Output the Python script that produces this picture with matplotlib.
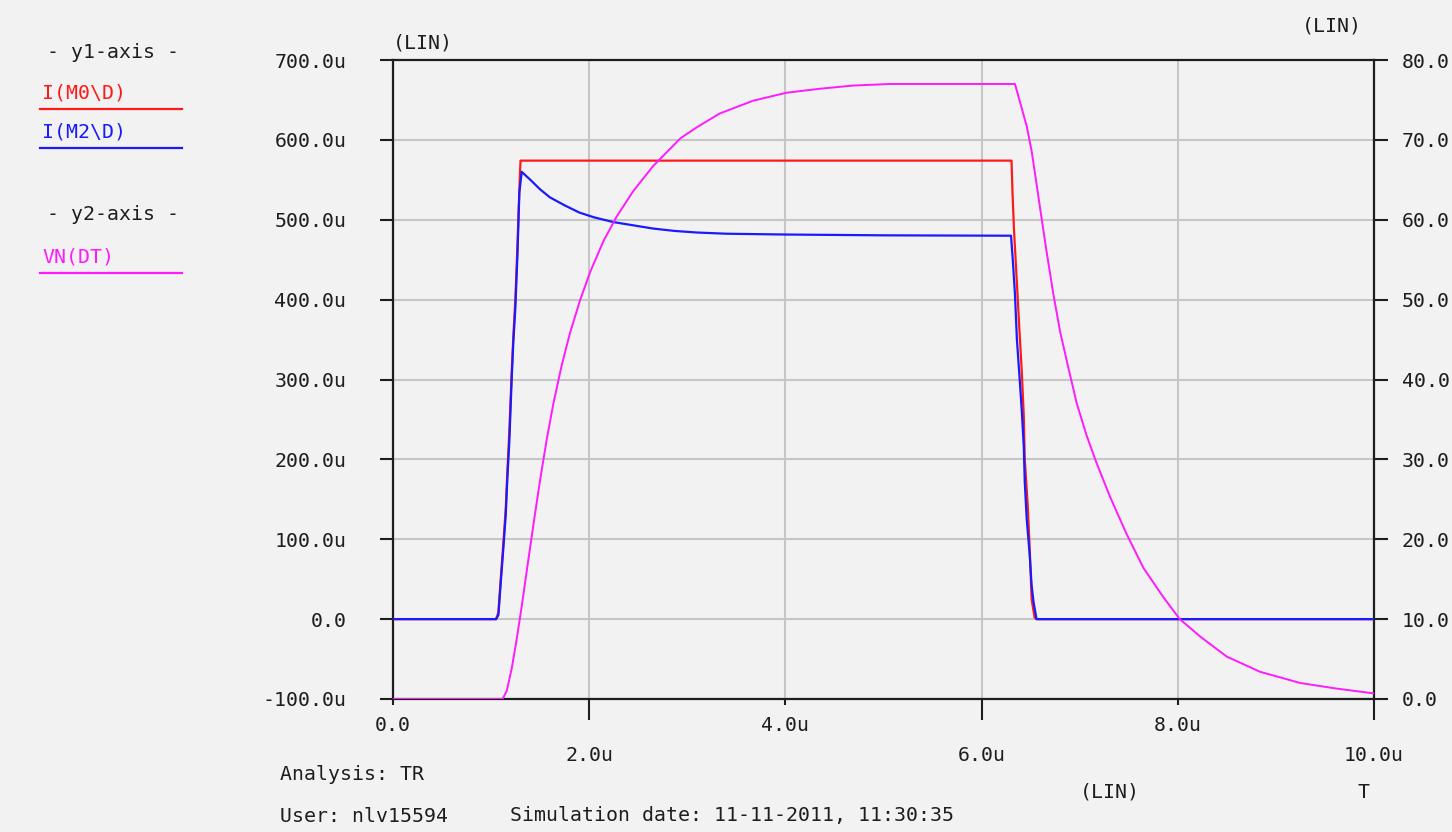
import matplotlib
matplotlib.use("Agg")
import matplotlib.pyplot as plt
from matplotlib.lines import Line2D

# transient analysis: drain currents (y1, in uA) and VN(DT) (y2, in V) vs time (us)
t_m0 = [0, 1.05, 1.074, 1.098, 1.125, 1.149, 1.166, 1.186, 1.21, 1.227, 1.247, 1.268,
        1.29, 1.30, 6.305, 6.315, 6.33, 6.36, 6.385, 6.41, 6.43, 6.44, 6.47, 6.49,
        6.51, 6.54, 6.56, 10.0]
i_m0 = [0, 0, 8, 50, 95, 138, 185, 235, 310, 355, 400, 465,
        545, 574, 574, 534, 488, 420, 363, 309, 254, 200, 143, 89,
        25, 2, 0, 0]

t_m2 = [0, 1.051, 1.074, 1.098, 1.125, 1.149, 1.166, 1.186, 1.21, 1.227, 1.247, 1.268,
        1.288, 1.312, 1.40, 1.50, 1.60, 1.75, 1.90, 2.05, 2.25, 2.45, 2.65, 2.87,
        3.10, 3.40, 4.00, 5.00, 6.30,
        6.32, 6.34, 6.36, 6.385, 6.41, 6.43, 6.44, 6.46, 6.49, 6.51, 6.53, 6.56, 10.0]
i_m2 = [0, 0, 5, 45, 89, 130, 177, 223, 301, 348, 389, 454,
        534, 560, 550, 538, 528, 518, 509, 503, 497, 493, 489, 486,
        484, 482.5, 481.5, 480.5, 480,
        446, 407, 350, 306, 260, 216, 172, 125, 81, 42, 21, 0, 0]

t_vn = [0, 1.117, 1.159, 1.21, 1.261, 1.312, 1.363, 1.431, 1.498, 1.567, 1.635, 1.72,
        1.804, 1.906, 2.008, 2.144, 2.28, 2.45, 2.65, 2.93, 3.10, 3.33, 3.67, 4.01,
        4.35, 4.69, 5.07, 6.34, 6.39, 6.46, 6.51, 6.56, 6.61, 6.66, 6.73, 6.80,
        6.88, 6.97, 7.07, 7.17, 7.31, 7.48, 7.65, 7.85, 8.02, 8.23, 8.50, 8.84,
        9.25, 9.62, 10.0]
vn_dt = [0, 0, 1.0, 3.8, 7.5, 11.6, 16.0, 21.8, 27.3, 32.5, 37.0, 41.8,
         45.8, 49.9, 53.4, 57.3, 60.4, 63.6, 66.7, 70.2, 71.6, 73.3, 74.9, 75.9,
         76.4, 76.8, 77.0, 77.0, 74.8, 71.7, 68.6, 64.5, 60.3, 56.2, 50.8, 46.0,
         41.7, 37.0, 33.0, 29.6, 25.3, 20.6, 16.4, 12.8, 10.0, 7.8, 5.3, 3.4,
         2.0, 1.3, 0.7]

y1_ticks = [-100, 0, 100, 200, 300, 400, 500, 600, 700]
y1_labels = ["-100.0u", "0.0", "100.0u", "200.0u", "300.0u", "400.0u", "500.0u", "600.0u", "700.0u"]
y2_ticks = [0, 10, 20, 30, 40, 50, 60, 70, 80]
y2_labels = ["0.0", "10.0", "20.0", "30.0", "40.0", "50.0", "60.0", "70.0", "80.0"]
x_ticks_a = [0, 4, 8]
x_labels_a = ["0.0", "4.0u", "8.0u"]
x_ticks_b = [2, 6, 10]
x_labels_b = ["2.0u", "6.0u", "10.0u"]

BG = "#f2f2f2"
RED = "#ff1a1a"
BLUE = "#1a1aff"
MAG = "#ff1aff"
GRID = "#c6c6c6"
INK = "#1e1e1e"
FS = 14.3

plt.rcParams["font.family"] = ["DejaVu Sans Mono"]
plt.rcParams["font.size"] = FS

W, H = 1452, 832
fig = plt.figure(figsize=(W / 100, H / 100), dpi=100, facecolor=BG)


def fx(x):
    return x / W


def fy(y):
    return 1 - y / H


ax = fig.add_axes([fx(393), fy(699), fx(1374) - fx(393), fy(60) - fy(699)])
ax.set_facecolor(BG)
ax.set_xlim(0, 10)
ax.set_ylim(-100, 700)

ax.set_yticks(y1_ticks, y1_labels)
ax.set_xticks(x_ticks_a, x_labels_a)
ax.set_xticks(x_ticks_b, x_labels_b, minor=True)
ax.tick_params(axis="y", direction="out", length=9.5, width=1.5, pad=24, colors=INK)
ax.tick_params(axis="x", which="major", direction="out", length=4.5, width=1.5, pad=8, colors=INK)
ax.tick_params(axis="x", which="minor", direction="out", length=15, width=1.5, pad=19, colors=INK)

ax.grid(True, which="both", axis="x", color=GRID, lw=1.5)
ax.grid(True, which="major", axis="y", color=GRID, lw=1.5)
ax.set_axisbelow(True)
for s in ax.spines.values():
    s.set_color(INK)
    s.set_linewidth(1.6)

ax.plot(t_m0, i_m0, color=RED, lw=1.6, zorder=3)
ax.plot(t_m2, i_m2, color=BLUE, lw=1.6, zorder=4)

ax2 = ax.twinx()
ax2.set_ylim(0, 80)
ax2.set_yticks(y2_ticks, y2_labels)
ax2.tick_params(axis="y", direction="out", length=10, width=1.5, pad=10, colors=INK)
for s in ax2.spines.values():
    s.set_visible(False)
ax2.plot(t_vn, vn_dt, color=MAG, lw=1.4, zorder=5)

# legend block on the left
fig.text(fx(47), fy(52), "- y1-axis -", color=INK, va="center", ha="left")
fig.text(fx(42), fy(93), "I(M0\\D)", color=RED, va="center", ha="left")
fig.add_artist(Line2D([fx(40), fx(182)], [fy(109), fy(109)], color=RED, lw=1.6))
fig.text(fx(42), fy(132), "I(M2\\D)", color=BLUE, va="center", ha="left")
fig.add_artist(Line2D([fx(40), fx(182)], [fy(148), fy(148)], color=BLUE, lw=1.6))
fig.text(fx(47), fy(215), "- y2-axis -", color=INK, va="center", ha="left")
fig.text(fx(42), fy(257), "VN(DT)", color=MAG, va="center", ha="left")
fig.add_artist(Line2D([fx(40), fx(182)], [fy(273), fy(273)], color=MAG, lw=1.6))

# axis scale tags and footer
fig.text(fx(393), fy(43), "(LIN)", color=INK, va="center", ha="left")
fig.text(fx(1302), fy(26), "(LIN)", color=INK, va="center", ha="left")
fig.text(fx(1080), fy(792), "(LIN)", color=INK, va="center", ha="left")
fig.text(fx(1364), fy(792), "T", color=INK, va="center", ha="center")
fig.text(fx(280), fy(775), "Analysis: TR", color=INK, va="center", ha="left")
fig.text(fx(280), fy(816), "User: nlv15594", color=INK, va="center", ha="left")
fig.text(fx(510), fy(816), "Simulation date: 11-11-2011, 11:30:35", color=INK, va="center", ha="left")

fig.savefig("out.png", dpi=100, facecolor=BG)
